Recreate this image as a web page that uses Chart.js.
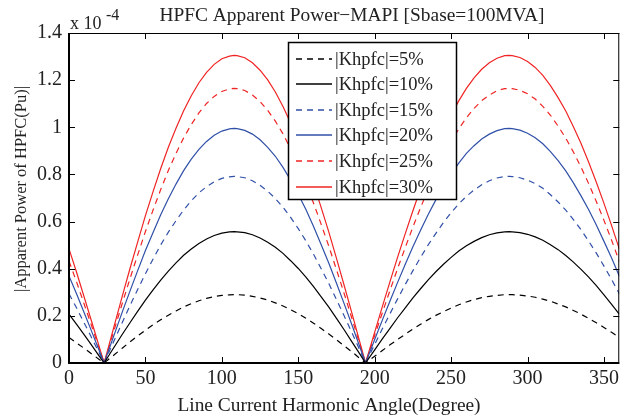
<!DOCTYPE html>
<html><head><meta charset="utf-8">
<script src="https://cdn.jsdelivr.net/npm/chart.js@4.4.0/dist/chart.umd.min.js"></script>
<style>html,body{margin:0;padding:0;background:#fff;}</style>
</head><body>
<canvas id="c" width="623" height="419"></canvas>
<script>
// Harmonic angle (degrees)
const angles = [0,5,10,15,20,23,25,30,35,40,45,50,55,60,65,70,75,80,85,90,95,100,105,108,110,115,120,125,130,135,140,145,150,155,160,165,170,175,180,185,190,194,200,205,210,215,220,225,230,235,240,245,250,255,260,265,270,275,280,285,288,290,295,300,305,310,315,320,325,330,335,340,345,350,355,360];
// Apparent power, in units of 1e-4 pu
const k5  = [0.108,0.085,0.062,0.038,0.014,0,0.011,0.037,0.064,0.090,0.115,0.139,0.162,0.183,0.203,0.221,0.238,0.252,0.264,0.274,0.282,0.287,0.289,0.290,0.290,0.288,0.283,0.276,0.267,0.255,0.242,0.226,0.209,0.190,0.169,0.146,0.123,0.099,0.073,0.048,0.021,0,0.029,0.053,0.077,0.100,0.122,0.144,0.164,0.184,0.202,0.218,0.233,0.247,0.259,0.269,0.277,0.283,0.287,0.290,0.290,0.290,0.288,0.284,0.279,0.271,0.262,0.250,0.238,0.223,0.207,0.189,0.171,0.151,0.130,0.108];
const k10 = [0.207,0.164,0.119,0.074,0.027,0,0.021,0.072,0.123,0.172,0.220,0.267,0.310,0.352,0.390,0.425,0.457,0.484,0.507,0.526,0.541,0.551,0.556,0.557,0.556,0.553,0.544,0.530,0.512,0.491,0.465,0.434,0.401,0.364,0.324,0.281,0.237,0.189,0.141,0.091,0.041,0,0.056,0.102,0.147,0.192,0.234,0.276,0.315,0.353,0.387,0.419,0.448,0.475,0.497,0.516,0.532,0.544,0.552,0.556,0.557,0.556,0.553,0.546,0.535,0.521,0.502,0.481,0.456,0.428,0.397,0.364,0.328,0.289,0.249,0.207];
const k15 = [0.294,0.233,0.169,0.105,0.039,0,0.029,0.102,0.174,0.245,0.313,0.379,0.441,0.501,0.555,0.604,0.649,0.688,0.722,0.748,0.769,0.783,0.790,0.792,0.791,0.786,0.773,0.754,0.729,0.698,0.661,0.618,0.570,0.518,0.461,0.400,0.337,0.269,0.200,0.130,0.058,0,0.079,0.145,0.209,0.272,0.333,0.392,0.448,0.501,0.550,0.596,0.638,0.675,0.707,0.734,0.756,0.773,0.785,0.791,0.792,0.791,0.786,0.776,0.761,0.741,0.714,0.683,0.649,0.608,0.565,0.517,0.466,0.411,0.354,0.294];
const k20 = [0.369,0.293,0.212,0.131,0.049,0,0.037,0.128,0.219,0.307,0.393,0.477,0.554,0.629,0.697,0.759,0.816,0.865,0.906,0.940,0.966,0.984,0.993,0.995,0.994,0.987,0.971,0.947,0.915,0.877,0.830,0.776,0.716,0.651,0.579,0.502,0.423,0.338,0.252,0.163,0.073,0,0.100,0.182,0.263,0.342,0.419,0.493,0.563,0.630,0.692,0.749,0.801,0.848,0.889,0.922,0.950,0.971,0.986,0.994,0.995,0.994,0.988,0.975,0.956,0.930,0.897,0.859,0.815,0.764,0.709,0.650,0.585,0.516,0.445,0.369];
const k25 = [0.432,0.343,0.248,0.154,0.057,0,0.043,0.150,0.256,0.360,0.460,0.558,0.649,0.736,0.817,0.889,0.955,1.012,1.061,1.101,1.131,1.152,1.163,1.165,1.164,1.156,1.137,1.109,1.072,1.026,0.972,0.909,0.839,0.762,0.678,0.588,0.495,0.396,0.295,0.191,0.085,0,0.117,0.213,0.308,0.401,0.490,0.577,0.659,0.737,0.810,0.877,0.938,0.993,1.040,1.080,1.113,1.137,1.155,1.164,1.165,1.164,1.157,1.142,1.120,1.089,1.051,1.005,0.954,0.895,0.831,0.761,0.685,0.605,0.521,0.432];
const k30 = [0.484,0.384,0.278,0.172,0.064,0,0.048,0.168,0.287,0.403,0.515,0.625,0.727,0.825,0.915,0.996,1.070,1.134,1.189,1.233,1.267,1.291,1.302,1.305,1.304,1.295,1.274,1.242,1.201,1.150,1.088,1.018,0.940,0.854,0.760,0.659,0.555,0.444,0.330,0.214,0.095,0,0.131,0.239,0.345,0.449,0.549,0.646,0.739,0.826,0.907,0.983,1.051,1.112,1.165,1.210,1.246,1.274,1.293,1.304,1.305,1.304,1.296,1.279,1.254,1.220,1.177,1.126,1.069,1.002,0.931,0.852,0.767,0.677,0.583,0.484];

const seriesLabels = ['|Khpfc|=5%','|Khpfc|=10%','|Khpfc|=15%','|Khpfc|=20%','|Khpfc|=25%','|Khpfc|=30%'];
const xTicks = [0,50,100,150,200,250,300,350];
const yTicks = [0,0.2,0.4,0.6,0.8,1.0,1.2,1.4];
const yTickLabels = ['0','0.2','0.4','0.6','0.8','1','1.2','1.4'];

const SERIF = "'Liberation Serif','Times New Roman',serif";
const BLACK = '#000000', BLUE = '#3050a8', RED = '#f02424';
const DASH = [6,5];
const styles = [
  {c:BLACK, d:DASH},{c:BLACK, d:[]},
  {c:BLUE, d:DASH},{c:BLUE, d:[]},
  {c:RED, d:DASH},{c:RED, d:[]}
];
const allSeries = [k5,k10,k15,k20,k25,k30];

const datasets = allSeries.map((s,i)=>({
  label: seriesLabels[i],
  data: angles.map((a,j)=>({x:a, y:s[j]})),
  borderColor: styles[i].c,
  borderDash: styles[i].d,
  borderWidth: 1.2,
  pointRadius: 0,
  tension: 0,
  fill: false
}));

const deco = {
  id:'deco',
  afterDraw(chart){
    const {ctx, chartArea:a, scales:{x,y}} = chart;
    ctx.save();
    ctx.setLineDash([]);
    // inward tick marks on all four sides
    ctx.strokeStyle='#000'; ctx.lineWidth=1;
    ctx.beginPath();
    xTicks.forEach(v=>{ const px=Math.round(x.getPixelForValue(v))+0.5;
      ctx.moveTo(px,a.bottom); ctx.lineTo(px,a.bottom-6);
      ctx.moveTo(px,a.top); ctx.lineTo(px,a.top+6);});
    yTicks.forEach(v=>{ const py=Math.round(y.getPixelForValue(v))+0.5;
      ctx.moveTo(a.left,py); ctx.lineTo(a.left+6,py);
      ctx.moveTo(a.right,py); ctx.lineTo(a.right-6,py);});
    ctx.stroke();
    // frame
    ctx.fillStyle='#000';
    ctx.fillRect(a.left-1, a.top, 2, a.bottom-a.top+1);
    ctx.fillRect(a.left-1, a.bottom-1, a.right-a.left+1, 2);
    ctx.fillRect(a.left, a.top, a.right-a.left, 1);
    ctx.fillRect(a.right-1, a.top, 1, a.bottom-a.top);

    // legend box
    const lx = a.left+219, ly = a.top+9, lw = 168, lh = 157;
    ctx.fillStyle='#fff';
    ctx.fillRect(lx,ly,lw,lh);
    ctx.strokeStyle='#000'; ctx.lineWidth=1.5;
    ctx.strokeRect(lx+0.5,ly+0.5,lw,lh);
    ctx.font = "18.5px "+SERIF;
    ctx.textBaseline='middle'; ctx.textAlign='left';
    seriesLabels.forEach((lab,i)=>{
      const cy = Math.round(ly + 16.5 + i*25.6);
      ctx.save();
      ctx.strokeStyle = styles[i].c; ctx.lineWidth=1.3;
      ctx.setLineDash(styles[i].d);
      ctx.beginPath(); ctx.moveTo(lx+8,cy); ctx.lineTo(lx+44,cy); ctx.stroke();
      ctx.restore();
      ctx.fillStyle='#222';
      ctx.fillText(lab, lx+47, cy+1);
    });

    // title
    ctx.fillStyle='#222';
    ctx.textAlign='center'; ctx.textBaseline='alphabetic';
    ctx.font = "19.4px "+SERIF;
    ctx.fillText('HPFC Apparent Power\u2212MAPI [Sbase=100MVA]', 352, 21);
    // x axis title
    ctx.fillText('Line Current Harmonic Angle(Degree)', 329, 411);
    // y axis title
    ctx.save();
    ctx.translate(26,189); ctx.rotate(-Math.PI/2);
    ctx.font = "16.5px "+SERIF;
    ctx.fillText('|Apparent Power of HPFC(Pu)|', 0, 0);
    ctx.restore();
    // exponent
    ctx.textAlign='left';
    ctx.font = "18px "+SERIF;
    ctx.fillText('x 10', 70, 29);
    ctx.font = "16px "+SERIF;
    ctx.fillText('-4', 106, 20);
    ctx.restore();
  }
};

new Chart(document.getElementById('c'), {
  type:'line',
  data:{datasets},
  options:{
    responsive:false,
    devicePixelRatio:1,
    animation:false,
    layout:{padding:{left:0,right:1,top:33,bottom:0}},
    plugins:{legend:{display:false}, title:{display:false}, tooltip:{enabled:false}},
    scales:{
      x:{type:'linear', min:0, max:360,
        afterBuildTicks:s=>{ s.ticks = xTicks.map(v=>({value:v})); },
        afterFit:s=>{ s.height = 56; },
        grid:{display:false, drawTicks:false}, border:{display:false},
        ticks:{color:'#222', font:{family:SERIF, size:20}, padding:4, maxRotation:0, autoSkip:false}
      },
      y:{type:'linear', min:0, max:1.4,
        afterBuildTicks:s=>{ s.ticks = yTicks.map(v=>({value:v})); },
        afterFit:s=>{ s.width = 69; },
        grid:{display:false, drawTicks:false}, border:{display:false},
        ticks:{color:'#222', font:{family:SERIF, size:20}, padding:7, autoSkip:false,
          callback:(v)=>{ const i = yTicks.findIndex(t=>Math.abs(t-v)<1e-9); return i>=0 ? yTickLabels[i] : ''; }}
      }
    }
  },
  plugins:[deco]
});
</script>
</body></html>
